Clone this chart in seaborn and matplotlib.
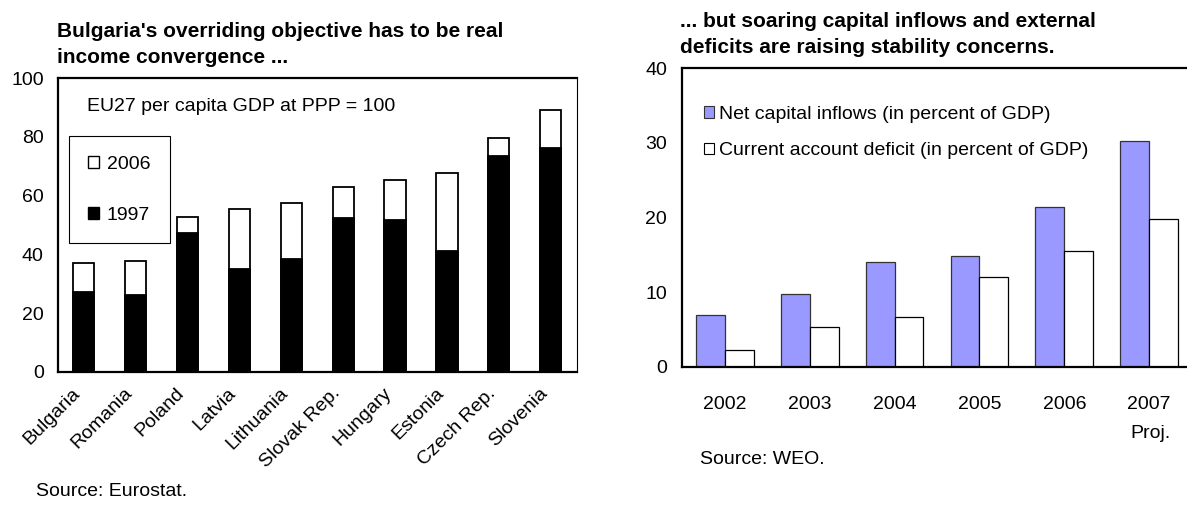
import matplotlib
matplotlib.use("Agg")
import matplotlib.pyplot as plt
from matplotlib.patches import Patch
from matplotlib.ticker import FixedLocator
import seaborn as sns
import pandas as pd

# Income convergence: GDP per capita at PPP, EU27 = 100
countries = ["Bulgaria", "Romania", "Poland", "Latvia", "Lithuania",
             "Slovak Rep.", "Hungary", "Estonia", "Czech Rep.", "Slovenia"]
gdp_1997 = [27.1, 26.2, 47.4, 35.1, 38.5, 52.3, 51.7, 41.2, 73.6, 76.3]
gdp_2006 = [37.2, 37.7, 52.8, 55.5, 57.6, 63.1, 65.2, 67.8, 79.5, 89.1]
left_ticks = [0, 20, 40, 60, 80, 100]

# External position, percent of GDP
years = ["2002", "2003", "2004", "2005", "2006", "2007"]
year_labels = ["2002", "2003", "2004", "2005", "2006", "2007\nProj."]
capital_inflows = [6.9, 9.8, 14.1, 14.9, 21.4, 30.3]
current_account_deficit = [2.3, 5.3, 6.6, 12.0, 15.5, 19.8]
right_ticks = [0, 10, 20, 30, 40]

inflow_label = "Net capital inflows (in percent of GDP)"
deficit_label = "Current account deficit (in percent of GDP)"
BLUE = "#9999ff"

sns.set_theme(style="white", rc={
    "axes.edgecolor": "black", "text.color": "black",
    "xtick.color": "black", "ytick.color": "black",
    "axes.labelcolor": "black",
})
plt.rcParams["font.family"] = ["Liberation Sans", "DejaVu Sans"]
plt.rcParams["font.size"] = 14

W, H = 1187, 507
fig = plt.figure(figsize=(W / 100, H / 100), dpi=100)


def add_axes_px(left, top, right, bottom):
    return fig.add_axes([left / W, 1 - bottom / H, (right - left) / W, (bottom - top) / H])


ax1 = add_axes_px(57.7, 78.3, 576.7, 371.7)
ax2 = add_axes_px(682.3, 68.3, 1191.7, 366.7)

# ---- left panel: stacked bars (2006 level behind, 1997 level in front)
sns.barplot(x=countries, y=gdp_2006, color="white", edgecolor="black",
            linewidth=1.3, width=0.41, saturation=1, errorbar=None, ax=ax1)
sns.barplot(x=countries, y=gdp_1997, color="black", edgecolor="black",
            linewidth=1.3, width=0.41, saturation=1, errorbar=None, ax=ax1)
ax1.set_xlim(-0.5, len(countries) - 0.5)
ax1.set_ylim(0, 100)
ax1.set_yticks(left_ticks)
ax1.set_xticks(range(len(countries)))
ax1.set_xticklabels(countries, rotation=45, ha="right", va="bottom",
                    rotation_mode="anchor")
ax1.tick_params(axis="y", direction="in", length=3, width=1, pad=10, labelsize=14)
ax1.tick_params(axis="x", which="major", length=0, pad=18, labelsize=14)
ax1.xaxis.set_minor_locator(FixedLocator([i + 0.5 for i in range(len(countries) - 1)]))
ax1.tick_params(axis="x", which="minor", direction="in", length=4, width=1)
ax1.set_xlabel("")
ax1.set_ylabel("")
for side, sp in ax1.spines.items():
    sp.set_visible(True)
    sp.set_color("black")
    sp.set_linewidth(0.8 if side == "right" else 1.6)

ax1.text(0.056, 0.903, "EU27 per capita GDP at PPP = 100", transform=ax1.transAxes,
         ha="left", va="center", fontsize=14)
leg1 = ax1.legend(
    [Patch(facecolor="white", edgecolor="black", linewidth=1.0),
     Patch(facecolor="black", edgecolor="black", linewidth=1.0)],
    ["2006", "1997"], loc="upper left", bbox_to_anchor=(0.0218, 0.803),
    borderaxespad=0, frameon=True, fancybox=False, framealpha=1,
    edgecolor="black", handlelength=0.55, handleheight=0.55,
    handletextpad=0.4, labelspacing=1.75, borderpad=1.0, fontsize=14)
leg1.get_frame().set_linewidth(0.8)

# ---- right panel: grouped bars
ext = pd.DataFrame({
    "year": years * 2,
    "value": capital_inflows + current_account_deficit,
    "series": [inflow_label] * len(years) + [deficit_label] * len(years),
})
sns.barplot(data=ext, x="year", y="value", hue="series",
            palette={inflow_label: BLUE, deficit_label: "white"},
            width=0.68, saturation=1, errorbar=None, legend=False,
            linewidth=0.9, ax=ax2)
for container, ec in zip(ax2.containers, ["#333333", "black"]):
    for bar in container:
        bar.set_edgecolor(ec)

ax2.set_xlim(-0.5, len(years) - 0.5)
ax2.set_ylim(0, 40)
ax2.set_yticks(right_ticks)
ax2.set_xticks(range(len(years)))
ax2.set_xticklabels(year_labels)
for lbl in ax2.get_xticklabels():
    lbl.set_linespacing(1.9)
    lbl.set_multialignment("right")
ax2.tick_params(axis="y", direction="in", length=3, width=1, pad=11, labelsize=14)
ax2.tick_params(axis="x", which="major", length=0, pad=21, labelsize=14)
ax2.xaxis.set_minor_locator(FixedLocator([i + 0.5 for i in range(len(years) - 1)]))
ax2.tick_params(axis="x", which="minor", direction="in", length=4, width=1)
ax2.set_xlabel("")
ax2.set_ylabel("")
for sp in ax2.spines.values():
    sp.set_visible(True)
    sp.set_color("black")
    sp.set_linewidth(1.6)

ax2.legend(
    [Patch(facecolor=BLUE, edgecolor="#333333", linewidth=0.8),
     Patch(facecolor="white", edgecolor="black", linewidth=0.8)],
    [inflow_label, deficit_label], loc="upper left",
    bbox_to_anchor=(0.0426, 0.874), borderaxespad=0, borderpad=0,
    frameon=False, handlelength=0.5, handleheight=0.5,
    handletextpad=0.25, labelspacing=1.0, fontsize=14)

# ---- titles and sources
fig.text(57 / W, 1 - 37 / H, "Bulgaria's overriding objective has to be real",
         fontsize=15, fontweight="bold", ha="left", va="baseline")
fig.text(57 / W, 1 - 63 / H, "income convergence ...",
         fontsize=15, fontweight="bold", ha="left", va="baseline")
fig.text(680 / W, 1 - 27 / H, "... but soaring capital inflows and external",
         fontsize=15, fontweight="bold", ha="left", va="baseline")
fig.text(680 / W, 1 - 53 / H, "deficits are raising stability concerns.",
         fontsize=15, fontweight="bold", ha="left", va="baseline")
fig.text(36 / W, 1 - 492 / H, "Source: Eurostat.", fontsize=14, ha="left", va="center")
fig.text(700 / W, 1 - 459 / H, "Source: WEO.", fontsize=14, ha="left", va="center")

fig.savefig("out.png", dpi=100)
